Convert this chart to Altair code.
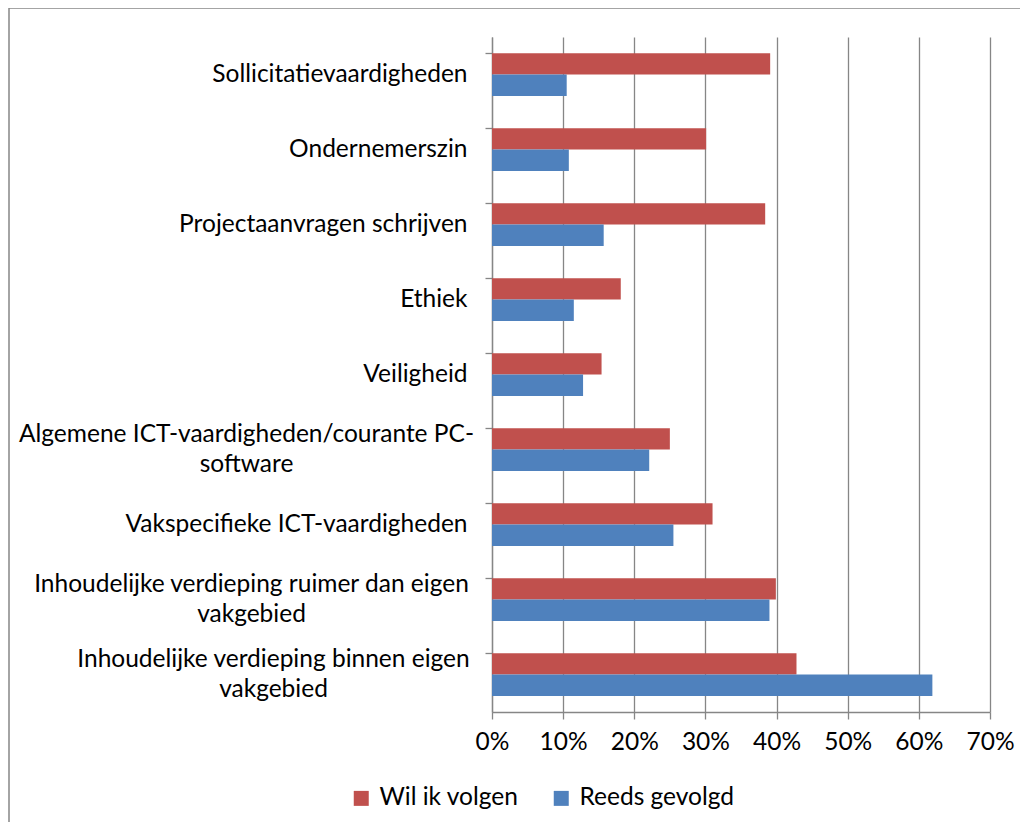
import altair as alt
import pandas as pd

categories = [
    "Sollicitatievaardigheden",
    "Ondernemerszin",
    "Projectaanvragen schrijven",
    "Ethiek",
    "Veiligheid",
    "Algemene ICT-vaardigheden/courante PC-|software",
    "Vakspecifieke ICT-vaardigheden",
    "Inhoudelijke verdieping ruimer dan eigen|vakgebied",
    "Inhoudelijke verdieping binnen eigen|vakgebied",
]
wil_ik_volgen = [39.1, 30.1, 38.4, 18.1, 15.4, 25.0, 31.0, 39.9, 42.8]
reeds_gevolgd = [10.5, 10.8, 15.7, 11.5, 12.8, 22.1, 25.5, 39.0, 61.9]
series = ["Wil ik volgen", "Reeds gevolgd"]
colors = ["#C0504D", "#4F81BD"]
x_ticks = [0, 0.1, 0.2, 0.3, 0.4, 0.5, 0.6, 0.7]

rows = []
for c, w, r in zip(categories, wil_ik_volgen, reeds_gevolgd):
    rows.append({"cat": c, "serie": series[0], "v": w / 100})
    rows.append({"cat": c, "serie": series[1], "v": r / 100})
df = pd.DataFrame(rows)

GREY = "#868686"
FONT = "Lato"
FS = 24.5

multi = "indexof(datum.value, '|') >= 0"
pad_cond = {
    "condition": [
        {"test": f"datum.value == '{categories[5]}'", "value": 239},
        {"test": f"datum.value == '{categories[7]}'", "value": 234},
        {"test": f"datum.value == '{categories[8]}'", "value": 212},
    ],
    "value": 18,
}
align_cond = {"condition": {"test": multi, "value": "center"}, "value": "right"}
offset_cond = {"condition": {"test": multi, "value": -15}, "value": 0}

bars = alt.Chart(df).mark_bar().encode(
    x=alt.X(
        "v:Q",
        scale=alt.Scale(domain=[0, 0.7], nice=False),
        axis=alt.Axis(
            values=x_ticks, format=".0%", title=None, grid=True,
            labelOverlap=False, labelFlush=False,
            gridColor=GREY, gridWidth=1.3, domainColor=GREY, domainWidth=1.3,
            tickColor=GREY, tickWidth=1.3, tickSize=7, labelPadding=11,
            labelFont=FONT, labelFontSize=FS, labelColor="black",
        ),
    ),
    y=alt.Y(
        "cat:N", sort=categories,
        scale=alt.Scale(paddingInner=0.43, paddingOuter=0.215),
        axis=alt.Axis(
            title=None, bandPosition=0, labelExpr="split(datum.label, '|')",
            labelAlign=align_cond, labelPadding=pad_cond, labelOffset=offset_cond,
            labelLimit=600, labelLineHeight=30, labelFont=FONT, labelFontSize=FS,
            labelColor="black", domainColor=GREY, domainWidth=1.3,
            tickColor=GREY, tickWidth=1.3, tickSize=7,
        ),
    ),
    yOffset=alt.YOffset("serie:N", sort=series, scale=alt.Scale(paddingInner=0, paddingOuter=0)),
    color=alt.Color(
        "serie:N", sort=series,
        scale=alt.Scale(domain=series, range=colors),
        legend=alt.Legend(
            title=None, orient="none", legendX=-143, legendY=749, direction="horizontal",
            symbolType="square", symbolSize=225, symbolStrokeWidth=0,
            labelFont=FONT, labelFontSize=FS, labelColor="black",
            columnPadding=30, labelOffset=6,
        ),
    ),
)

border = alt.Chart(pd.DataFrame({"a": [0]})).mark_rect(
    fillOpacity=0, stroke=GREY, strokeWidth=1.5
).encode(
    x=alt.value(-483), x2=alt.value(560), y=alt.value(-29), y2=alt.value(820)
)

chart = alt.layer(bars, border).properties(
    width=498, height=675, autosize="none",
    padding={"left": 484, "top": 29, "right": 30, "bottom": 110},
).configure_view(stroke=None)

chart.save("out.html", embed_options={"renderer": "svg", "actions": False})
